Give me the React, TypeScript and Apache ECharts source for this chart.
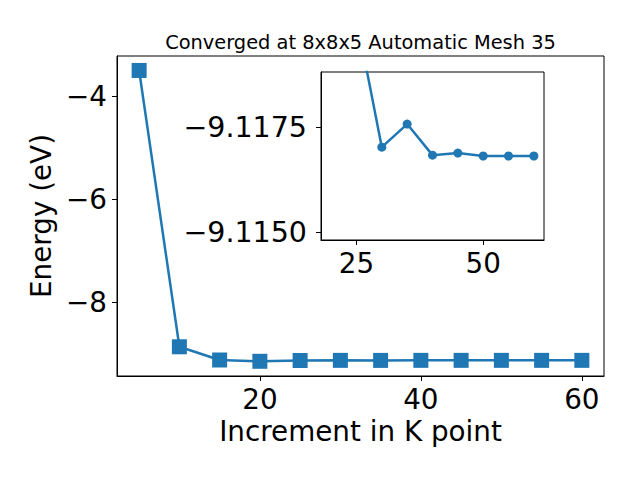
import React, { useEffect, useRef } from "react";
import * as echarts from "echarts";

const kpoints = [5, 10, 15, 20, 25, 30, 35, 40, 45, 50, 55, 60];
const energies = [-3.5, -8.854, -9.11, -9.135, -9.1201, -9.11702, -9.11757, -9.11683, -9.11688, -9.11681, -9.11681, -9.11681];
const insetK = [20, 25, 30, 35, 40, 45, 50, 55, 60];
const insetE = [-9.135, -9.1201, -9.11702, -9.11757, -9.11683, -9.11688, -9.11681, -9.11681, -9.11681];
const mainXTicks = [20, 40, 60];
const mainYTicks = [-8, -6, -4];
const insetXTicks = [25, 50];
const insetYTicks = [-9.1175, -9.115];

const titleText = "Converged at 8x8x5 Automatic Mesh 35";
const xName = "Increment in K point";
const yName = "Energy (eV)";

const COLOR = "#1f77b4";
const FONT = "DejaVu Sans";
const FS = 27.8;

const fmtMinus = (v: number, digits: number) => {
  const s = digits > 0 ? v.toFixed(digits) : String(Math.round(v));
  return s.replace("-", "\u2212");
};

export default function App() {
  const ref = useRef<HTMLDivElement>(null);
  useEffect(() => {
    if (!ref.current) return;
    const chart = echarts.init(ref.current, null, { renderer: "svg" });
    const axisCommon = {
      axisLine: { show: true, onZero: false, lineStyle: { color: "#000", width: 1 } },
      axisTick: { show: true, inside: false, length: 5, lineStyle: { color: "#000", width: 1 } },
      splitLine: { show: false },
    };
    chart.setOption({
      animation: false,
      backgroundColor: "#fff",
      textStyle: { fontFamily: FONT },
      graphic: [
        {
          type: "text",
          x: 360.5,
          y: 42,
          style: {
            text: titleText,
            fontSize: 19.4,
            fontFamily: FONT,
            fill: "#000",
            textAlign: "center",
            textVerticalAlign: "middle",
          },
        },
      ],
      grid: [
        { left: 117, top: 56, right: 36, bottom: 104, show: true, borderColor: "#000", borderWidth: 1, backgroundColor: "transparent" },
        { left: 321, top: 72, width: 223, height: 168, show: true, borderColor: "#000", borderWidth: 1, backgroundColor: "#fff", z: 10 },
      ],
      xAxis: [
        {
          ...axisCommon,
          type: "value",
          gridIndex: 0,
          min: 2.25,
          max: 62.75,
          axisTick: { ...axisCommon.axisTick, customValues: mainXTicks },
          axisLabel: { customValues: mainXTicks, fontSize: FS, color: "#000", margin: 9, fontFamily: FONT },
          name: xName,
          nameLocation: "middle",
          nameGap: 40,
          nameTextStyle: { fontSize: FS, color: "#000", fontFamily: FONT, verticalAlign: "top" },
        },
        {
          ...axisCommon,
          type: "value",
          gridIndex: 1,
          min: 18,
          max: 62,
          z: 10,
          axisTick: { ...axisCommon.axisTick, customValues: insetXTicks },
          axisLabel: { customValues: insetXTicks, fontSize: FS, color: "#000", margin: 9, fontFamily: FONT },
        },
      ],
      yAxis: [
        {
          ...axisCommon,
          type: "value",
          gridIndex: 0,
          min: -9.42,
          max: -3.22,
          axisTick: { ...axisCommon.axisTick, customValues: mainYTicks },
          axisLabel: {
            customValues: mainYTicks,
            fontSize: FS,
            color: "#000",
            margin: 10,
            fontFamily: FONT,
            formatter: (v: number) => fmtMinus(v, 0),
          },
          name: yName,
          nameLocation: "middle",
          nameGap: 58,
          nameRotate: 90,
          nameTextStyle: { fontSize: FS, color: "#000", fontFamily: FONT },
        },
        {
          ...axisCommon,
          type: "value",
          gridIndex: 1,
          inverse: true,
          min: -9.11881,
          max: -9.11481,
          z: 10,
          axisTick: { ...axisCommon.axisTick, customValues: insetYTicks },
          axisLabel: {
            customValues: insetYTicks,
            fontSize: 28.5,
            color: "#000",
            margin: 14,
            fontFamily: FONT,
            formatter: (v: number) => fmtMinus(v, 4),
          },
        },
      ],
      series: [
        {
          type: "line",
          xAxisIndex: 0,
          yAxisIndex: 0,
          data: kpoints.map((k, i) => [k, energies[i]]),
          symbol: "rect",
          symbolSize: 15,
          lineStyle: { color: COLOR, width: 2.5 },
          itemStyle: { color: COLOR },
          z: 2,
        },
        {
          type: "line",
          xAxisIndex: 1,
          yAxisIndex: 1,
          data: insetK.map((k, i) => [k, insetE[i]]),
          symbol: "circle",
          symbolSize: 9,
          clip: true,
          lineStyle: { color: COLOR, width: 2.5 },
          itemStyle: { color: COLOR },
          z: 12,
        },
      ],
    });
    return () => chart.dispose();
  }, []);
  return <div ref={ref} style={{ position: "fixed", left: 0, top: 0, width: 640, height: 480 }} />;
}
